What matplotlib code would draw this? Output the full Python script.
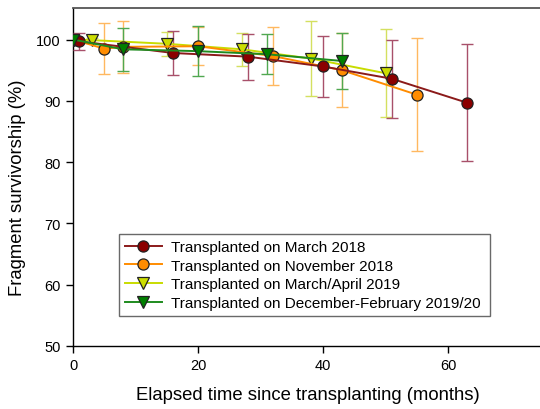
import matplotlib
matplotlib.use("Agg")
import matplotlib.pyplot as plt

plt.rcParams['font.family'] = ['Liberation Sans', 'DejaVu Sans']

# Data (months, % survivorship, symmetric error)
red_x = [0, 1, 16, 28, 40, 51, 63]
red_y = [100, 99.7, 97.8, 97.2, 95.6, 93.6, 89.7]
red_e = [0, 1.35, 3.6, 3.75, 4.95, 6.4, 9.6]

orange_x = [0, 5, 8, 20, 32, 43, 55]
orange_y = [100, 98.5, 98.8, 98.9, 97.3, 95.0, 91.0]
orange_e = [0, 4.2, 4.2, 3.1, 4.7, 6.05, 9.2]

yellow_x = [0, 3, 15, 27, 38, 50]
yellow_y = [100, 99.9, 99.3, 98.4, 96.9, 94.5]
yellow_e = [0, 0.4, 2.0, 2.7, 6.05, 7.15]

green_x = [0, 8, 20, 31, 43]
green_y = [100, 98.4, 98.1, 97.6, 96.5]
green_e = [0, 3.55, 4.1, 3.25, 4.5]

labels = ["Transplanted on March 2018",
          "Transplanted on November 2018",
          "Transplanted on March/April 2019",
          "Transplanted on December-February 2019/20"]

x_ticks = [0, 20, 40, 60]
y_ticks = [50, 60, 70, 80, 90, 100]

fig = plt.figure(figsize=(5.4, 4.1), dpi=100)
ax = fig.add_axes([73/540, 63/410, 467/540, 338/410])

series = [
    # x, y, err, line, face, ecolor, marker, z, label
    (yellow_x, yellow_y, yellow_e, '#C8DC00', '#CCDD00', '#D4E060', 'v', 2, labels[2]),
    (orange_x, orange_y, orange_e, '#FF8C00', '#FF8C00', '#FFB860', 'o', 3, labels[1]),
    (red_x, red_y, red_e, '#8B1A1A', '#8B0000', '#A8506A', 'o', 4, labels[0]),
    (green_x, green_y, green_e, '#1E8B1E', '#008000', '#50A850', 'v', 5, labels[3]),
]
handles = {}
for x, y, e, lc, fc, ec, m, z, lab in series:
    ax.errorbar(x, y, yerr=e, fmt='none', ecolor=ec, elinewidth=1.0,
                capsize=4, capthick=1.0, zorder=z)
    h, = ax.plot(x, y, color=lc, lw=1.4, marker=m, markersize=8,
                 markerfacecolor=fc, markeredgecolor='#222222',
                 markeredgewidth=0.9, zorder=z + 10, label=lab)
    handles[lab] = h

ax.set_xlim(0, 467/6.25)
ax.set_ylim(50, 50 + 338/6.13)
ax.set_xticks(x_ticks)
ax.set_yticks(y_ticks)
ax.tick_params(direction='out', length=5, width=1, labelsize=10.5, pad=4)
ax.spines['right'].set_visible(False)
ax.spines['top'].set_color('#555555')
ax.spines['top'].set_linewidth(1.3)
for s in ['left', 'bottom']:
    ax.spines[s].set_linewidth(1.0)

fig.text(308/540, 1 - 396/410, "Elapsed time since transplanting (months)",
         ha='center', va='center', fontsize=13.3)
fig.text(18/540, 1 - 188/410, "Fragment survivorship (%)",
         ha='center', va='center', rotation=90, fontsize=13.3)

leg = ax.legend([handles[l] for l in labels], labels,
                loc='lower left',
                bbox_to_anchor=(119/540, 1 - 317/410, 371/540, 94/410),
                bbox_transform=fig.transFigure, mode='expand',
                fontsize=11, frameon=True, fancybox=False,
                handlelength=2.4, handletextpad=0.6, labelspacing=0.3,
                borderpad=0.4, borderaxespad=0, numpoints=1)
leg.get_frame().set_edgecolor('#444444')
leg.get_frame().set_linewidth(1.0)

fig.savefig("out.png", dpi=100)
